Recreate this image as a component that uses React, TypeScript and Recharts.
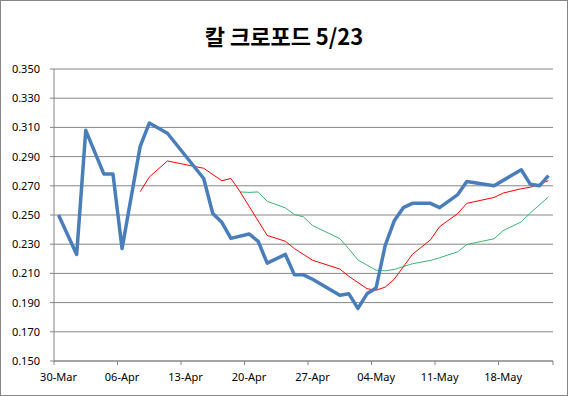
import { LineChart, Line, XAxis, YAxis, CartesianGrid } from 'recharts'

document.body.style.margin = '0'

// one slot per day, 30-Mar .. 23-May; null = no vertex that day
const daily = [
  0.250, null, 0.223, 0.308, null, 0.278, 0.278, 0.227, null, 0.297,
  0.313, null, 0.306, null, null, null, 0.275, 0.251, 0.245, 0.234,
  null, 0.237, 0.232, 0.217, null, 0.223, 0.209, 0.209, 0.206, null,
  null, 0.195, 0.196, 0.186, 0.196, 0.200, 0.229, 0.246, 0.255, 0.258,
  null, 0.258, 0.255, null, 0.264, 0.273, null, null, 0.270, null,
  null, 0.281, 0.271, 0.270, 0.277,
]

const avgShort = [
  null, null, null, null, null, null, null, null, null, 0.266,
  0.276, null, 0.287, null, null, null, 0.282, null, 0.2735, 0.275,
  0.266, null, null, 0.236, null, 0.232, 0.227, null, 0.219, null,
  null, 0.213, 0.208, null, 0.1995, 0.1985, 0.2006, 0.206, null, 0.223,
  null, 0.233, 0.242, null, 0.251, 0.258, null, null, 0.262, 0.265,
  null, 0.268, 0.269, null, 0.2735,
]

const avgLong = [
  null, null, null, null, null, null, null, null, null, null,
  null, null, null, null, null, null, null, null, null, null,
  0.2658, 0.2655, 0.2658, 0.2594, null, 0.2549, 0.2503, 0.2487, 0.2428, null,
  null, 0.2338, 0.2268, 0.2192, null, 0.2122, 0.2118, 0.2127, null, 0.2166,
  null, 0.2189, 0.2207, null, 0.2248, 0.2298, null, null, 0.2337, 0.2393,
  null, 0.2453, 0.2514, null, 0.2624,
]

const weekTicks = [0, 7, 14, 21, 28, 35, 42, 49, 55]
const weekLabels = ['30-Mar', '06-Apr', '13-Apr', '20-Apr', '27-Apr', '04-May', '11-May', '18-May', '']
const yTicks = [0.15, 0.17, 0.19, 0.21, 0.23, 0.25, 0.27, 0.29, 0.31, 0.33, 0.35]

const data = daily.map((v, i) => ({ x: i + 0.5, daily: v, short: avgShort[i], long: avgLong[i] }))

const W = 568
const H = 396
const DAY_PX = (553 - 54) / 55

const DateTick = ({ x, y, payload }: any) => {
  const idx = weekTicks.indexOf(payload.value)
  return (
    <text x={x + DAY_PX / 2} y={y} dy={14} textAnchor="middle" fontSize={11} fill="#000"
      fontFamily="'Noto Sans', sans-serif">
      {weekLabels[idx]}
    </text>
  )
}

export default function App() {
  return (
    <div style={{ position: 'relative', width: W, height: H, background: '#fff' }}>
      <LineChart width={W} height={H} data={data} margin={{ top: 69, right: 15, bottom: 0, left: 0 }}>
        <CartesianGrid vertical={false} stroke="#868686" />
        <XAxis
          type="number"
          dataKey="x"
          domain={[0, 55]}
          ticks={weekTicks}
          tick={<DateTick />}
          height={35}
          tickSize={4}
          stroke="#868686"
          interval={0}
        />
        <YAxis
          domain={[0.15, 0.35]}
          ticks={yTicks}
          tickFormatter={(v) => v.toFixed(3)}
          width={54}
          tickSize={4}
          tickMargin={10}
          stroke="#868686"
          tick={{ fill: '#000', fontSize: 11, fontFamily: "'Noto Sans', sans-serif" }}
          interval={0}
        />
        <Line dataKey="long" stroke="#3CB371" strokeWidth={1} dot={false} activeDot={false}
          connectNulls isAnimationActive={false} />
        <Line dataKey="short" stroke="#FF0000" strokeWidth={1} dot={false} activeDot={false}
          connectNulls isAnimationActive={false} />
        <Line dataKey="daily" stroke="#4A7EBB" strokeWidth={3.5} strokeLinejoin="round" dot={false}
          activeDot={false} connectNulls isAnimationActive={false} />
      </LineChart>
      <div style={{
        position: 'absolute', top: 20, left: 0, width: W, textAlign: 'center',
        fontFamily: "'Noto Sans CJK KR', sans-serif", fontWeight: 700, fontSize: 22, lineHeight: '30px',
      }}>
        칼 크로포드 5/23
      </div>
      <div style={{
        position: 'absolute', inset: 0, border: '1px solid #868686', pointerEvents: 'none',
      }} />
    </div>
  )
}
